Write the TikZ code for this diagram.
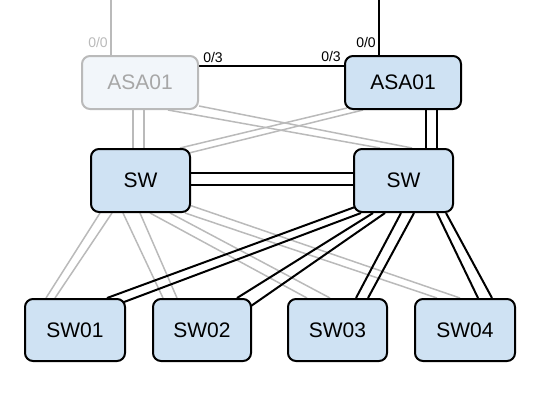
\documentclass[tikz,border=0pt]{standalone}
\usepackage{fontspec}
\setmainfont{Liberation Sans}
\usepackage{xcolor}
\usepackage{tikz}
\usetikzlibrary{backgrounds}

\definecolor{boxblue}{RGB}{207,226,243}
\definecolor{fadefill}{RGB}{242,246,250}
\definecolor{fadegray}{RGB}{186,186,186}

\begin{document}
\begin{tikzpicture}[x=1pt, y=-1pt,
    device/.style={draw=black, line width=2pt, fill=boxblue, rounded corners=8pt,
        inner sep=0pt, font=\fontsize{21}{25}\selectfont},
    fadedevice/.style={device, draw=fadegray, fill=fadefill, text=fadegray!90!black},
    link/.style={draw=black, line width=2pt},
    fadelink/.style={draw=fadegray, line width=1.5pt},
    portlabel/.style={inner sep=0pt, font=\fontsize{14}{16}\selectfont}]
    \useasboundingbox (0,0) rectangle (540,410);

    % firewalls
    \node[fadedevice, minimum width=116pt, minimum height=53pt] (asaL) at (140,82.5) {ASA01};
    \node[device, minimum width=116pt, minimum height=53pt] (asaR) at (403,82.5) {ASA01};
    % core switches
    \node[device, minimum width=99pt, minimum height=63pt] (swL) at (140.5,180.5) {SW};
    \node[device, minimum width=99pt, minimum height=63pt] (swR) at (403.5,180.5) {SW};
    % access switches
    \node[device, minimum width=100pt, minimum height=62pt] (sw01) at (75,330) {SW01};
    \node[device, minimum width=98pt, minimum height=62pt] (sw02) at (202,330) {SW02};
    \node[device, minimum width=99pt, minimum height=62pt] (sw03) at (337.5,330) {SW03};
    \node[device, minimum width=100pt, minimum height=62pt] (sw04) at (465,330) {SW04};

    % port labels
    \node[portlabel, text=fadegray] (pL0) at (98,42) {0/0};
    \node[portlabel] (pL3) at (213,57) {0/3};
    \node[portlabel] (pR3) at (331,56) {0/3};
    \node[portlabel] (pR0) at (366,42) {0/0};

    \coordinate (upL) at (111,0);
    \coordinate (upR) at (379,0);

    \begin{scope}[on background layer]
        % uplinks and failover link
        \draw[fadelink] ([xshift=-29pt]asaL.north) -- (upL);
        \draw[link] ([xshift=-24pt]asaR.north) -- (upR);
        \draw[link] ([yshift=16.5pt]asaL.east) -- ([yshift=16.5pt]asaR.west);

        % firewalls to core
        \draw[fadelink] ([xshift=-7pt]asaL.south) -- ([xshift=-7.5pt]swL.north);
        \draw[fadelink] ([xshift=4pt]asaL.south) -- ([xshift=3.5pt]swL.north);
        \draw[link] ([xshift=23pt]asaR.south) -- ([xshift=22.5pt]swR.north);
        \draw[link] ([xshift=34pt]asaR.south) -- ([xshift=33.5pt]swR.north);
        \draw[fadelink] ([xshift=28pt]asaL.south) -- ([xshift=-23.5pt]swR.north);
        \draw[fadelink] ([yshift=-23.5pt]asaL.east) -- ([xshift=8.5pt]swR.north);
        \draw[fadelink] ([xshift=3pt,yshift=-25.5pt]asaR.west) -- ([xshift=39.5pt]swL.north);
        \draw[fadelink] ([xshift=-40pt]asaR.south) -- ([xshift=-2pt,yshift=-5pt]swL.north east);

        % core interlink
        \draw[link] ([yshift=7.5pt]swL.east) -- ([yshift=7.5pt]swR.west);
        \draw[link] ([yshift=-4.5pt]swL.east) -- ([yshift=-4.5pt]swR.west);

        % left core to access
        \draw[fadelink] ([xshift=-40.5pt]swL.south) -- ([xshift=-29pt]sw01.north);
        \draw[fadelink] ([xshift=-28.5pt]swL.south) -- ([xshift=-20pt]sw01.north);
        \draw[fadelink] ([xshift=-17.5pt]swL.south) -- ([xshift=-39pt]sw02.north);
        \draw[fadelink] ([xshift=-0.5pt]swL.south) -- ([xshift=-25pt]sw02.north);
        \draw[fadelink] ([xshift=9.5pt]swL.south) -- ([xshift=-30.5pt]sw03.north);
        \draw[fadelink] ([xshift=29.5pt]swL.south) -- ([xshift=-7.5pt]sw03.north);
        \draw[fadelink] ([xshift=44.5pt]swL.south) -- ([xshift=-28pt]sw04.north);
        \draw[fadelink] ([xshift=-2pt,yshift=-24.5pt]swL.east) -- ([xshift=-5pt]sw04.north);

        % right core to access
        \draw[link] ([xshift=2pt,yshift=-26.5pt]swR.west) -- ([xshift=32pt]sw01.north);
        \draw[link] ([xshift=-42.5pt]swR.south) -- ([xshift=-2pt,yshift=-4pt]sw01.north east);
        \draw[link] ([xshift=-30.5pt]swR.south) -- ([xshift=35pt]sw02.north);
        \draw[link] ([xshift=-18.5pt]swR.south) -- ([xshift=-1pt,yshift=-8pt]sw02.north east);
        \draw[link] ([xshift=-2.5pt]swR.south) -- ([xshift=18.5pt]sw03.north);
        \draw[link] ([xshift=10.5pt]swR.south) -- ([xshift=30.5pt]sw03.north);
        \draw[link] ([xshift=33.5pt]swR.south) -- ([xshift=13pt]sw04.north);
        \draw[link] ([xshift=42.5pt]swR.south) -- ([xshift=27pt]sw04.north);
    \end{scope}
\end{tikzpicture}
\end{document}
